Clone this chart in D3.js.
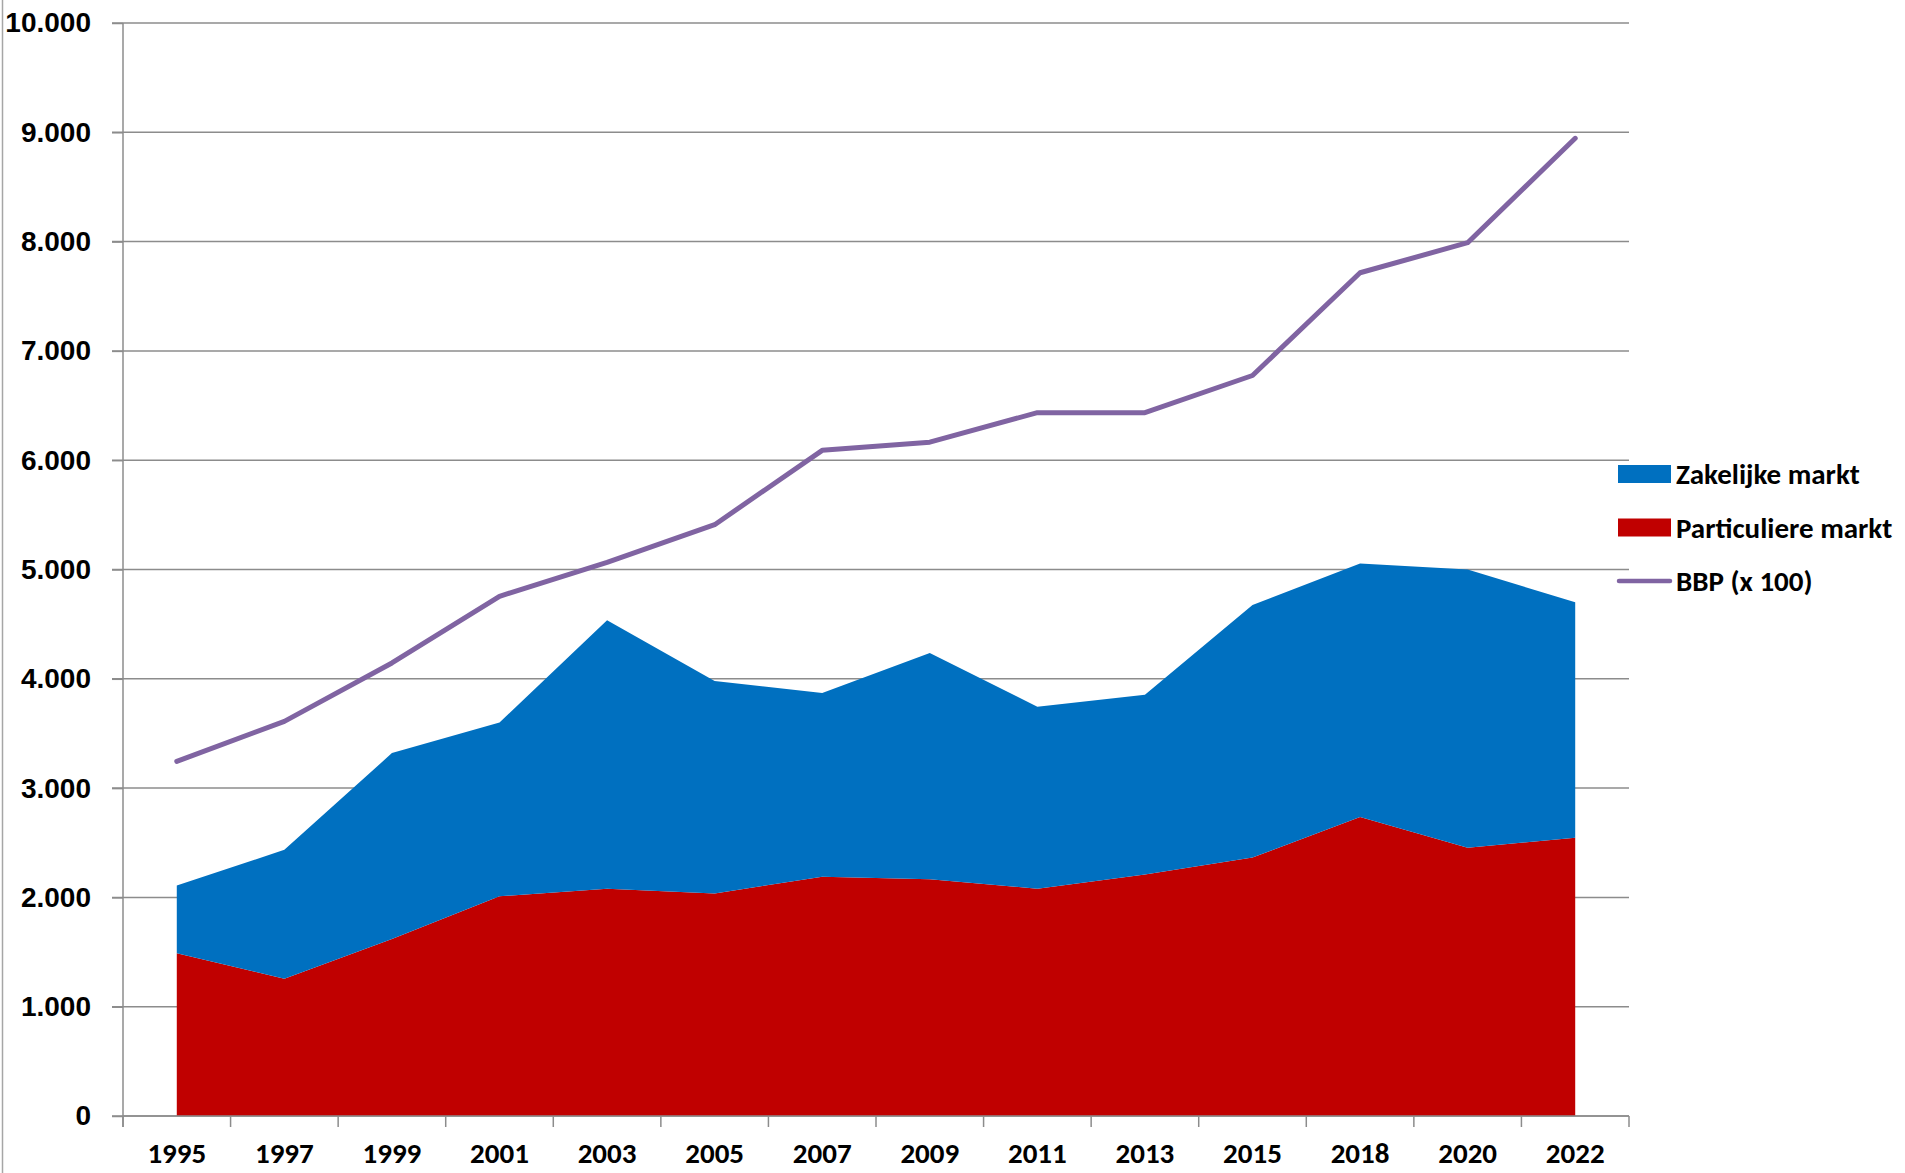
<!DOCTYPE html>
<html lang="nl">
<head>
    <meta charset="utf-8">
    <title>Zakelijke en particuliere markt vs BBP</title>
    <script src="https://cdn.jsdelivr.net/npm/d3@7"></script>
    <style>
        body { margin: 0; background: #fff; }
        svg { display: block; font-family: Carlito, Calibri, Lato, sans-serif; font-weight: bold; }
    </style>
</head>
<body>
    <svg id="chart" width="1905" height="1173"></svg>

    <script>
        // data
        const years = ["1995", "1997", "1999", "2001", "2003", "2005", "2007", "2009", "2011", "2013", "2015", "2018", "2020", "2022"];
        const particulier = [1490, 1255, 1620, 2010, 2080, 2035, 2190, 2165, 2080, 2210, 2365, 2735, 2455, 2545];
        const zakelijk = [620, 1180, 1700, 1590, 2455, 1945, 1680, 2070, 1665, 1645, 2310, 2320, 2545, 2155];
        const bbp = [3245, 3610, 4145, 4755, 5065, 5410, 6090, 6165, 6435, 6435, 6775, 7715, 7990, 8945];
        const yTicks = [0, 1000, 2000, 3000, 4000, 5000, 6000, 7000, 8000, 9000, 10000];

        const colors = { zakelijk: "#0070C0", particulier: "#C00000", bbp: "#8064A2" };
        const gridColor = "#8c8c8c";

        const svg = d3.select("#chart");
        const plotLeft = 123, plotRight = 1629, plotTop = 23, plotBottom = 1116;

        const x = d3.scaleBand().domain(years).range([plotLeft, plotRight]).padding(0);
        const cx = d => x(d) + x.bandwidth() / 2;
        const y = d3.scaleLinear().domain([0, 10000]).range([plotBottom, plotTop]);

        const nl = d3.formatLocale({ decimal: ",", thousands: ".", grouping: [3], currency: ["€", ""] });
        const fmt = nl.format(",");

        // outer frame line on the left
        svg.append("line")
            .attr("x1", 2.5).attr("x2", 2.5)
            .attr("y1", 0).attr("y2", 1173)
            .attr("stroke", "#a6a6a6").attr("stroke-width", 1.5);

        // gridlines
        svg.append("g").selectAll("line")
            .data(yTicks)
            .enter().append("line")
            .attr("x1", plotLeft - 11).attr("x2", plotRight)
            .attr("y1", d => y(d)).attr("y2", d => y(d))
            .attr("stroke", gridColor).attr("stroke-width", 1.5);

        // stacked areas
        const rows = years.map((yr, i) => ({ year: yr, particulier: particulier[i], zakelijk: zakelijk[i] }));
        const stack = d3.stack().keys(["particulier", "zakelijk"])(rows);

        const area = d3.area()
            .x(d => cx(d.data.year))
            .y0(d => y(d[0]))
            .y1(d => y(d[1]));

        svg.append("g").selectAll("path")
            .data(stack)
            .enter().append("path")
            .attr("d", area)
            .attr("fill", d => colors[d.key]);

        // BBP line
        const line = d3.line()
            .x((d, i) => cx(years[i]))
            .y(d => y(d));

        svg.append("path")
            .attr("d", line(bbp))
            .attr("fill", "none")
            .attr("stroke", colors.bbp)
            .attr("stroke-width", 5)
            .attr("stroke-linejoin", "round")
            .attr("stroke-linecap", "round");

        // y axis
        const yAxis = svg.append("g")
            .attr("transform", `translate(${plotLeft},0)`)
            .call(d3.axisLeft(y).tickValues(yTicks).tickFormat(fmt).tickSize(11).tickPadding(21));
        yAxis.select(".domain").attr("stroke", gridColor).attr("stroke-width", 1.5)
            .attr("d", `M0,${plotTop}V${plotBottom + 11}`);
        yAxis.selectAll(".tick line").attr("stroke", gridColor).attr("stroke-width", 1.5);
        yAxis.selectAll("text")
            .attr("font-size", 28).attr("font-family", null).attr("fill", "#000");

        // x axis
        const xg = svg.append("g");
        xg.append("line")
            .attr("x1", plotLeft).attr("x2", plotRight)
            .attr("y1", plotBottom).attr("y2", plotBottom)
            .attr("stroke", gridColor).attr("stroke-width", 1.5);
        const edges = years.map(d => x(d)).concat([plotRight]);
        xg.selectAll("line.tick")
            .data(edges)
            .enter().append("line")
            .attr("class", "tick")
            .attr("x1", d => d).attr("x2", d => d)
            .attr("y1", plotBottom).attr("y2", plotBottom + 11)
            .attr("stroke", gridColor).attr("stroke-width", 1.5);
        xg.selectAll("text")
            .data(years)
            .enter().append("text")
            .attr("x", d => cx(d))
            .attr("y", plotBottom + 47)
            .attr("text-anchor", "middle")
            .attr("font-size", 29)
            .text(d => d);

        // legend
        const legendItems = [
            { label: "Zakelijke markt", key: "zakelijk", type: "rect" },
            { label: "Particuliere markt", key: "particulier", type: "rect" },
            { label: "BBP (x 100)", key: "bbp", type: "line" }
        ];
        const lg = svg.append("g").attr("transform", "translate(1618,474)");
        const item = lg.selectAll("g")
            .data(legendItems)
            .enter().append("g")
            .attr("transform", (d, i) => `translate(0,${i * 53.5})`);
        item.filter(d => d.type === "rect").append("rect")
            .attr("x", 0).attr("y", -9).attr("width", 53).attr("height", 18)
            .attr("fill", d => colors[d.key]);
        item.filter(d => d.type === "line").append("line")
            .attr("x1", 1).attr("x2", 52).attr("y1", 0).attr("y2", 0)
            .attr("stroke", d => colors[d.key]).attr("stroke-width", 4.5)
            .attr("stroke-linecap", "round");
        item.append("text")
            .attr("x", 58).attr("y", 0).attr("dy", "0.35em")
            .attr("font-size", 29)
            .text(d => d.label);
    </script>
</body>
</html>
